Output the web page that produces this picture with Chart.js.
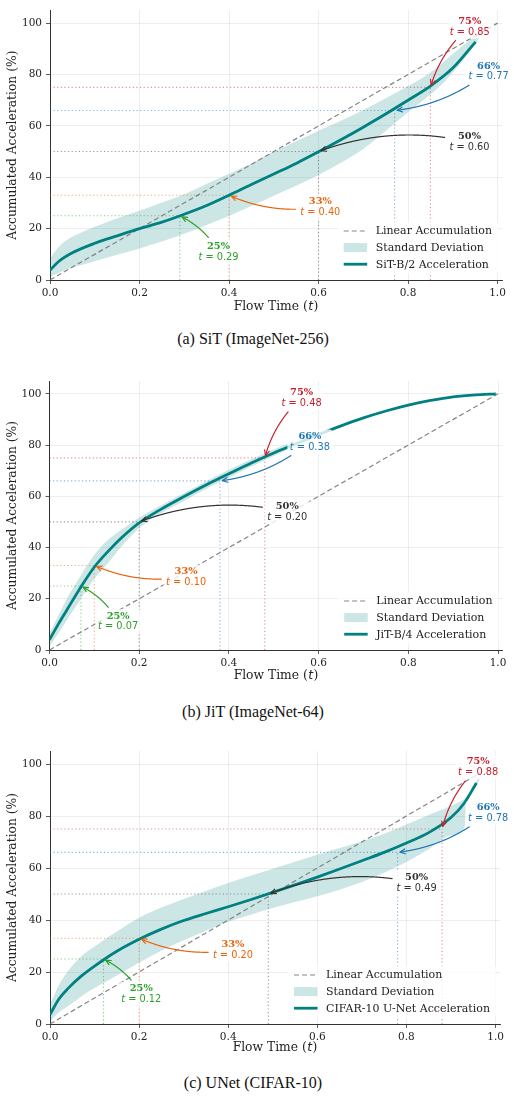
<!DOCTYPE html>
<html><head><meta charset="utf-8">
<script src="https://cdn.jsdelivr.net/npm/chart.js@4.4.1/dist/chart.umd.min.js"></script>
<style>
html,body{margin:0;padding:0;background:#fff;}
body{width:514px;height:1100px;position:relative;overflow:hidden;}
canvas{position:absolute;left:0;}
.cap{position:absolute;left:0;width:506px;text-align:center;font-family:"Liberation Serif","Times New Roman",serif;font-size:16px;color:#111;line-height:20px;}
</style></head><body>
<canvas id="c1" width="514" height="320" style="top:0px;width:514px;height:320px"></canvas>
<div class="cap" style="top:329px">(a) SiT (ImageNet-256)</div>
<canvas id="c2" width="514" height="320" style="top:370px;width:514px;height:320px"></canvas>
<div class="cap" style="top:702px">(b) JiT (ImageNet-64)</div>
<canvas id="c3" width="514" height="330" style="top:740px;width:514px;height:330px"></canvas>
<div class="cap" style="top:1073px">(c) UNet (CIFAR-10)</div>
<script>
// ---------- data ----------
const xTicks = [0, 0.2, 0.4, 0.6, 0.8, 1.0];
const yTicks = [0, 20, 40, 60, 80, 100];
const linearT = [0, 1];
const linearY = [0, 100];
const levelY = [25, 33, 50, 66, 75];
const levelLabels = ['25%', '33%', '50%', '66%', '75%'];
const legendLinear = 'Linear Accumulation';
const legendBand = 'Standard Deviation';

// (a) SiT
const sitName = 'SiT-B/2 Acceleration';
const sitMeanT = [0, 0.02, 0.05, 0.1, 0.15, 0.2, 0.25, 0.3, 0.35, 0.4, 0.45, 0.5, 0.55, 0.6, 0.65, 0.7, 0.75, 0.8, 0.85, 0.9, 0.951];
const sitMeanY = [3.8, 7.3, 10.6, 14.3, 17.2, 20.0, 22.5, 25.6, 29.0, 33.0, 37.2, 41.3, 45.4, 49.9, 54.6, 59.5, 64.6, 70.0, 75.5, 82.5, 92.7];
const sitUpT = [0, 0.015, 0.035, 0.07, 0.1, 0.15, 0.2, 0.25, 0.3, 0.35, 0.4, 0.45, 0.5, 0.55, 0.6, 0.65, 0.7, 0.75, 0.8, 0.85, 0.9, 0.95, 0.982];
const sitUpY = [8.3, 12.0, 15.3, 18.5, 20.7, 24.0, 27.0, 30.2, 33.4, 37.5, 41.4, 45.4, 49.9, 54.0, 58.1, 62.0, 66.2, 70.8, 75.5, 80.8, 88.0, 95.3, 100.2];
const sitLoT = [0, 0.035, 0.07, 0.1, 0.15, 0.2, 0.25, 0.3, 0.35, 0.4, 0.45, 0.5, 0.55, 0.6, 0.65, 0.7, 0.75, 0.8, 0.85, 0.886, 0.925, 0.955, 0.982];
const sitLoY = [1.3, 3.9, 5.8, 7.3, 9.8, 12.3, 15.0, 18.0, 21.4, 24.9, 28.8, 32.8, 36.7, 40.9, 45.6, 51.0, 58.0, 65.3, 72.2, 78.0, 86.0, 93.0, 100.2];
const sitLevelT = [0.29, 0.40, 0.60, 0.77, 0.85];

// (b) JiT
const jitName = 'JiT-B/4 Acceleration';
const jitMeanT = [0, 0.02, 0.04, 0.07, 0.1, 0.13, 0.16, 0.2, 0.25, 0.3, 0.35, 0.4, 0.45, 0.5, 0.55, 0.6, 0.65, 0.7, 0.75, 0.8, 0.85, 0.9, 0.95, 0.995];
const jitMeanY = [4.0, 10.2, 16.0, 24.6, 32.4, 38.4, 43.7, 49.6, 55.1, 59.9, 64.5, 68.8, 73.0, 76.9, 80.5, 84.1, 87.5, 90.6, 93.3, 95.6, 97.4, 98.8, 99.6, 100];
const jitUpT = [0, 0.02, 0.04, 0.07, 0.1, 0.13, 0.16, 0.2, 0.25, 0.3, 0.35, 0.4, 0.45, 0.5, 0.535];
const jitUpY = [6.5, 13.5, 20.4, 29.2, 37.2, 42.9, 46.8, 51.7, 56.6, 61.3, 66.0, 70.4, 74.5, 78.3, 80.8];
const jitLoT = [0, 0.02, 0.04, 0.07, 0.1, 0.13, 0.16, 0.2, 0.25, 0.3, 0.35, 0.4, 0.45, 0.5, 0.535];
const jitLoY = [1.5, 6.5, 12.0, 20.0, 27.8, 33.8, 40.3, 47.6, 53.5, 58.2, 62.9, 67.3, 71.6, 75.7, 78.6];
const jitLevelT = [0.07, 0.10, 0.20, 0.38, 0.48];

// (c) UNet
const unetName = 'CIFAR-10 U-Net Acceleration';
const unetMeanT = [0, 0.02, 0.04, 0.07, 0.1, 0.15, 0.2, 0.25, 0.3, 0.35, 0.4, 0.45, 0.5, 0.55, 0.6, 0.65, 0.7, 0.75, 0.8, 0.85, 0.9, 0.93, 0.957];
const unetMeanY = [3.6, 9.6, 13.6, 18.4, 22.3, 28.0, 32.6, 36.5, 39.8, 42.5, 45.1, 47.8, 50.6, 53.5, 56.5, 59.6, 62.8, 66.0, 69.6, 73.6, 79.4, 85.0, 92.7];
const unetUpT = [0, 0.02, 0.04, 0.07, 0.1, 0.15, 0.2, 0.25, 0.3, 0.35, 0.4, 0.45, 0.5, 0.55, 0.6, 0.65, 0.7, 0.75, 0.8, 0.85, 0.9, 0.932, 0.95, 0.97];
const unetUpY = [7.5, 15.0, 20.3, 26.0, 29.8, 35.6, 40.9, 44.8, 48.1, 51.2, 54.2, 57.0, 59.7, 62.4, 65.1, 67.7, 70.3, 73.2, 76.7, 80.4, 83.9, 87.0, 91.5, 97.0];
const unetLoT = [0, 0.02, 0.04, 0.07, 0.1, 0.15, 0.2, 0.25, 0.3, 0.35, 0.4, 0.45, 0.5, 0.55, 0.6, 0.65, 0.7, 0.75, 0.8, 0.85, 0.9, 0.93, 0.935, 0.955, 0.97];
const unetLoY = [1.0, 4.5, 6.8, 10.6, 13.8, 18.7, 23.6, 28.2, 32.2, 35.9, 39.3, 42.0, 44.6, 46.9, 49.1, 51.6, 54.6, 58.2, 62.3, 67.2, 72.6, 75.0, 86.5, 91.0, 97.0];
const unetLevelT = [0.12, 0.20, 0.49, 0.78, 0.88];

// ---------- annotation layout (text centres in data units, arrow bend) ----------
const sitLabelPos = [[0.3765, 11.1], [0.604, 28.4], [0.9374, 53.7], [0.98, 81.3], [0.938, 98.7]];
const jitLabelPos = [[0.153, 11.2], [0.3045, 28.6], [0.530, 54.0], [0.5806, 81.4], [0.562, 98.4]];
const unetLabelPos = [[0.2048, 11.5], [0.4106, 28.5], [0.8228, 54.3], [0.9834, 81.2], [0.961, 98.8]];
const arrowRad = [0.15, -0.15, 0.15, -0.15, 0.15];

// ---------- styles ----------
const TEAL = '#008080';
const BAND = 'rgba(0,128,128,0.2)';
const levelColors = ['#2ca02c', '#e8650c', '#333333', '#1f77b4', '#c8202f'];
const refColors = ['rgba(44,160,44,0.55)', 'rgba(232,101,12,0.55)', 'rgba(70,70,70,0.55)', 'rgba(31,119,180,0.55)', 'rgba(200,32,47,0.5)'];
const SERIF = '"DejaVu Serif", serif';
const SANS = '"DejaVu Sans", sans-serif';

Chart.defaults.font.family = SERIF;
Chart.defaults.color = '#222';

function pts(xs, ys) { return xs.map((v, i) => ({x: v, y: ys[i]})); }

function buildDatasets(p) {
  const ds = [];
  ds.push({label: legendLinear, data: pts(linearT, linearY), borderColor: 'rgba(120,120,120,0.9)', borderWidth: 1.2,
    borderDash: [5, 3], pointRadius: 0, fill: false, order: 1});
  ds.push({label: 'upper', data: pts(p.upT, p.upY), borderColor: 'rgba(0,0,0,0)', borderWidth: 1,
    pointRadius: 0, fill: false, order: 4, cubicInterpolationMode: 'monotone'});
  ds.push({label: legendBand, data: pts(p.loT, p.loY), borderColor: 'rgba(0,0,0,0)', borderWidth: 1,
    backgroundColor: BAND, pointRadius: 0, fill: 1, order: 3, cubicInterpolationMode: 'monotone'});
  ds.push({label: p.name, data: pts(p.meanT, p.meanY), borderColor: TEAL, borderWidth: 2.8,
    pointRadius: 0, fill: false, order: 0, cubicInterpolationMode: 'monotone', borderCapStyle: 'butt'});
  p.levelT.forEach((t, i) => {
    const yv = levelY[i];
    const base = {borderColor: refColors[i], borderWidth: 1.1, borderDash: [1.2, 2.4], pointRadius: 0, fill: false, order: 2};
    ds.push(Object.assign({label: 'h' + i, data: [{x: 0, y: yv}, {x: t, y: yv}]}, base));
    ds.push(Object.assign({label: 'v' + i, data: [{x: t, y: 0}, {x: t, y: yv}]}, base));
  });
  return ds;
}

function roundRect(ctx, x, y, w, h, r) {
  ctx.beginPath();
  ctx.moveTo(x + r, y);
  ctx.lineTo(x + w - r, y); ctx.quadraticCurveTo(x + w, y, x + w, y + r);
  ctx.lineTo(x + w, y + h - r); ctx.quadraticCurveTo(x + w, y + h, x + w - r, y + h);
  ctx.lineTo(x + r, y + h); ctx.quadraticCurveTo(x, y + h, x, y + h - r);
  ctx.lineTo(x, y + r); ctx.quadraticCurveTo(x, y, x + r, y);
  ctx.closePath();
}

function drawArrow(ctx, x0, y0, x1, y1, rad, box, col) {
  const dx = x1 - x0, dyc = y1 - y0;
  const cx = (x0 + x1) / 2 - rad * dyc, cy = (y0 + y1) / 2 + rad * dx;
  const N = 400, P = [];
  for (let i = 0; i <= N; i++) {
    const s = i / N, a = (1 - s) * (1 - s), b = 2 * s * (1 - s), c = s * s;
    P.push([a * x0 + b * cx + c * x1, a * y0 + b * cy + c * y1]);
  }
  const inside = q => q[0] >= box[0] && q[0] <= box[0] + box[2] && q[1] >= box[1] && q[1] <= box[1] + box[3];
  let i0 = 0; while (i0 < N && inside(P[i0])) i0++;
  let i1 = N; while (i1 > i0 && Math.hypot(P[i1][0] - x1, P[i1][1] - y1) < 2.5) i1--;
  ctx.save();
  ctx.strokeStyle = col; ctx.lineWidth = 1.2; ctx.lineCap = 'round'; ctx.lineJoin = 'round';
  ctx.beginPath(); ctx.moveTo(P[i0][0], P[i0][1]);
  for (let i = i0 + 1; i <= i1; i++) ctx.lineTo(P[i][0], P[i][1]);
  ctx.stroke();
  const tip = P[i1]; let j = i1;
  while (j > i0 && Math.hypot(P[j][0] - tip[0], P[j][1] - tip[1]) < 5) j--;
  const ang = Math.atan2(tip[1] - P[j][1], tip[0] - P[j][0]);
  const hl = 5, hw = 2.4, ca = Math.cos(ang), sa = Math.sin(ang);
  const bx = tip[0] - hl * ca, by = tip[1] - hl * sa;
  ctx.beginPath();
  ctx.moveTo(bx - hw * sa, by + hw * ca);
  ctx.lineTo(tip[0], tip[1]);
  ctx.lineTo(bx + hw * sa, by - hw * ca);
  ctx.stroke();
  ctx.restore();
}

function annoPlugin(p) {
  return {
    id: 'anno',
    afterDatasetsDraw(chart) {
      const {ctx, chartArea: ca, scales: {x, y}} = chart;
      // ---- annotations ----
      p.levelT.forEach((t, i) => {
        const col = levelColors[i];
        const tx = x.getPixelForValue(p.labelPos[i][0]), ty = y.getPixelForValue(p.labelPos[i][1]);
        const l1 = levelLabels[i], l2 = ' = ' + t.toFixed(2);
        ctx.save();
        ctx.font = 'bold 9.8px ' + SERIF; const w1 = ctx.measureText(l1).width;
        ctx.font = 'italic 9.8px ' + SANS; const wt = ctx.measureText('t').width;
        ctx.font = '9.8px ' + SANS; const wn = ctx.measureText(l2).width;
        const w2 = wt + wn;
        const bw = Math.max(w1, w2) + 5, bh = 24;
        const bx = tx - bw / 2, by = ty - bh / 2;
        ctx.fillStyle = 'rgba(255,255,255,0.8)';
        roundRect(ctx, bx, by, bw, bh, 3); ctx.fill();
        ctx.fillStyle = col; ctx.textBaseline = 'middle';
        ctx.font = 'bold 9.8px ' + SERIF; ctx.textAlign = 'center';
        ctx.fillText(l1, tx, ty - 5.2);
        ctx.textAlign = 'left';
        const xs = tx - w2 / 2;
        ctx.font = 'italic 9.8px ' + SANS; ctx.fillText('t', xs, ty + 5.6);
        ctx.font = '9.8px ' + SANS; ctx.fillText(l2, xs + wt, ty + 5.6);
        ctx.restore();
        const px = x.getPixelForValue(t), py = y.getPixelForValue(levelY[i]);
        drawArrow(ctx, tx, ty, px, py, arrowRad[i], [bx - 2, by - 2, bw + 4, bh + 4], col);
      });
      // ---- legend ----
      ctx.save();
      ctx.font = '11px ' + SERIF;
      const labels = [legendLinear, legendBand, p.name];
      const maxW = Math.max(...labels.map(s => ctx.measureText(s).width));
      const textX = ca.right - 10 - maxW;
      const rowH = 16.6;
      const r0 = ca.bottom - 15.8 - 2 * rowH;
      ctx.fillStyle = 'rgba(255,255,255,0.8)';
      roundRect(ctx, textX - 38, r0 - 9.5, maxW + 44, 2 * rowH + 19, 3); ctx.fill();
      const sx0 = textX - 32, sx1 = textX - 8.5;
      ctx.strokeStyle = 'rgba(120,120,120,0.9)'; ctx.lineWidth = 1.2; ctx.setLineDash([5, 3]);
      ctx.beginPath(); ctx.moveTo(sx0, r0); ctx.lineTo(sx1, r0); ctx.stroke();
      ctx.setLineDash([]);
      ctx.fillStyle = BAND; ctx.fillRect(sx0, r0 + rowH - 4.5, sx1 - sx0, 9);
      ctx.strokeStyle = TEAL; ctx.lineWidth = 2.8;
      ctx.beginPath(); ctx.moveTo(sx0, r0 + 2 * rowH); ctx.lineTo(sx1, r0 + 2 * rowH); ctx.stroke();
      ctx.fillStyle = '#222'; ctx.textBaseline = 'middle'; ctx.textAlign = 'left';
      labels.forEach((s, k) => ctx.fillText(s, textX, r0 + k * rowH + 0.5));
      ctx.restore();
      // ---- x axis title ----
      ctx.save();
      ctx.fillStyle = '#222'; ctx.textBaseline = 'middle'; ctx.textAlign = 'left';
      const a = 'Flow Time (', b = 't', c = ')';
      ctx.font = '12.3px ' + SERIF; const wa = ctx.measureText(a).width, wc = ctx.measureText(c).width;
      ctx.font = 'italic 12.3px ' + SANS; const wb = ctx.measureText(b).width;
      const tot = wa + wb + wc + 1;
      let xx = (ca.left + ca.right) / 2 - tot / 2; const yy = ca.bottom + p.xTitleOff;
      ctx.font = '12.3px ' + SERIF; ctx.fillText(a, xx, yy); xx += wa;
      ctx.font = 'italic 12.3px ' + SANS; ctx.fillText(b, xx + 0.5, yy); xx += wb + 1;
      ctx.font = '12.3px ' + SERIF; ctx.fillText(c, xx, yy);
      ctx.restore();
    }
  };
}

function makeChart(id, p, lay) {
  const grid = {color: 'rgba(176,176,176,0.28)', lineWidth: 0.8, tickColor: '#333', tickLength: 4, drawTicks: true};
  const border = {display: true, color: '#333', width: 1};
  new Chart(document.getElementById(id), {
    type: 'line',
    data: {datasets: buildDatasets(p)},
    options: {
      responsive: false, animation: false, devicePixelRatio: 1,
      layout: {padding: {top: lay.top, right: lay.right, left: 0, bottom: 0}},
      plugins: {legend: {display: false}, tooltip: {enabled: false}, filler: {propagate: false}},
      elements: {line: {tension: 0}},
      scales: {
        x: {type: 'linear', min: 0, max: 1.01, grid: grid, border: border,
          afterBuildTicks: s => { s.ticks = xTicks.map(v => ({value: v})); },
          afterFit: s => { s.height = lay.xh; },
          ticks: {font: {size: 10.5, family: SERIF}, color: '#222', padding: 3, maxRotation: 0,
            callback: v => Number(v).toFixed(1)}},
        y: {type: 'linear', min: 0, max: 105, grid: grid, border: border,
          afterBuildTicks: s => { s.ticks = yTicks.map(v => ({value: v})); },
          afterFit: s => { s.width = lay.left; },
          title: {display: true, text: 'Accumulated Acceleration (%)', font: {size: 12.3, family: SERIF}, color: '#222',
            padding: {top: 5, bottom: 0}},
          ticks: {font: {size: 10.5, family: SERIF}, color: '#222', padding: 4,
            callback: v => String(Math.round(v))}}
      }
    },
    plugins: [annoPlugin(p)]
  });
}

makeChart('c1', {name: sitName, meanT: sitMeanT, meanY: sitMeanY, upT: sitUpT, upY: sitUpY, loT: sitLoT, loY: sitLoY,
  levelT: sitLevelT, labelPos: sitLabelPos, xTitleOff: 26.5}, {top: 7, right: 12, left: 50, xh: 40});
makeChart('c2', {name: jitName, meanT: jitMeanT, meanY: jitMeanY, upT: jitUpT, upY: jitUpY, loT: jitLoT, loY: jitLoY,
  levelT: jitLevelT, labelPos: jitLabelPos, xTitleOff: 25.5}, {top: 11, right: 11.5, left: 49.5, xh: 40});
makeChart('c3', {name: unetName, meanT: unetMeanT, meanY: unetMeanY, upT: unetUpT, upY: unetUpY, loT: unetLoT, loY: unetLoY,
  levelT: unetLevelT, labelPos: unetLabelPos, xTitleOff: 24}, {top: 11, right: 14, left: 50, xh: 46});
</script>
</body></html>
